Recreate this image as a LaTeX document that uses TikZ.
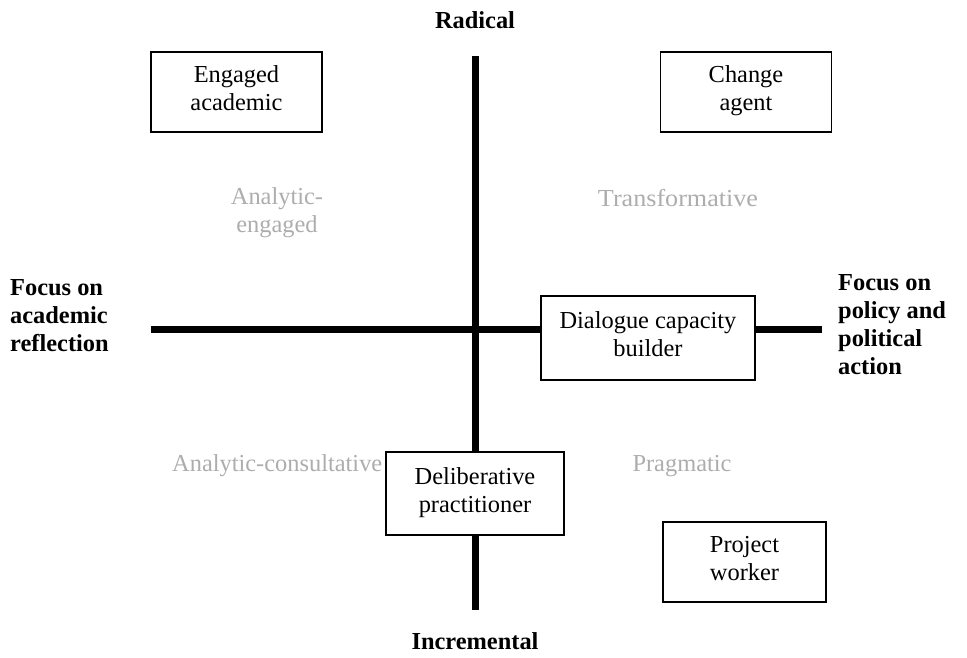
\documentclass[tikz,border=0pt]{standalone}
\usepackage{fontspec}
\setmainfont{Liberation Serif}
\begin{document}
\begin{tikzpicture}[x=1pt,y=-1pt,
  txt/.style={font=\fontsize{24.4}{28}\selectfont},
  role/.style={txt,draw=black,line width=1.6pt,fill=white,align=center,inner sep=0pt,
    text height=43.5pt,text depth=6.5pt},
  pole/.style={txt,font=\fontsize{24.4}{28}\selectfont\bfseries,inner sep=0pt},
  quadrant/.style={txt,text=black!32,align=center,inner sep=0pt},
  axis/.style={line width=7pt,black}]
\useasboundingbox (0,0) rectangle (967,658);

% axis end points
\coordinate (top) at (475,56);
\coordinate (bottom) at (475,610);
\coordinate (left) at (151,329);
\coordinate (right) at (822,329);

\draw[axis] (top) -- (bottom);
\draw[axis] (left) -- (right);

% poles of the two axes
\node[pole] (radical) at (475,20) {Radical};
\node[pole] (incremental) at (475,641) {Incremental};
\node[pole,align=left,anchor=west] (academic) at (10,316) {Focus on\\academic\\reflection};
\node[pole,align=left,anchor=west] (policy) at (838,325) {Focus on\\policy and\\political\\action};

% quadrant names
\node[quadrant] (analyticengaged) at (277,213) {Analytic-\\engaged};
\node[quadrant,font=\fontsize{24.4}{28}\selectfont\addfontfeature{FakeStretch=1.07}] (transformative) at (678,198) {Transformative};
\node[quadrant,anchor=west] (consultative) at (172,466) {Analytic-consultative};
\node[quadrant] (pragmatic) at (682,466) {Pragmatic};

% roles
\node[role,minimum width=171,minimum height=80] (engaged) at (236.5,92) {Engaged\\academic};
\node[role,minimum width=171,minimum height=80] (change) at (746,92) {Change\\agent};
\node[role,minimum width=214,minimum height=84] (dialogue) at (648,338) {Dialogue capacity\\builder};
\node[role,minimum width=178,minimum height=83] (deliberative) at (475,493.5) {Deliberative\\practitioner};
\node[role,minimum width=163,minimum height=80] (project) at (744.5,562) {Project\\worker};
\end{tikzpicture}
\end{document}
